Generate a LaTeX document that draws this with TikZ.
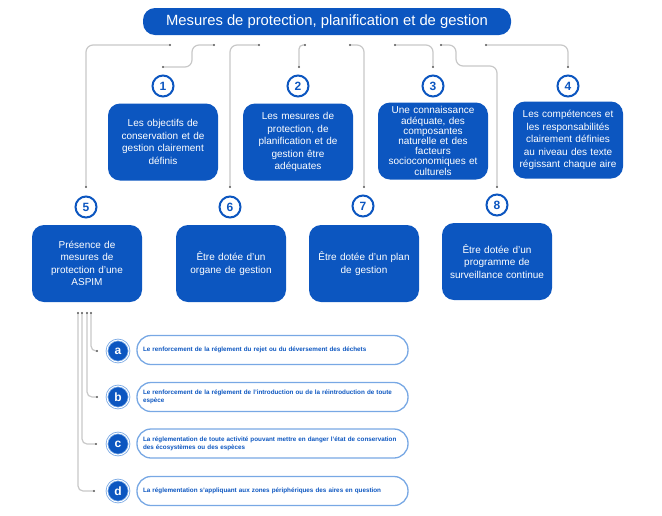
\documentclass[tikz,border=0pt]{standalone}
\usepackage{fontspec}
\setmainfont{Liberation Sans}
\definecolor{bleu}{RGB}{12,86,192}
\definecolor{bleuclair}{RGB}{120,168,228}
\definecolor{trait}{RGB}{200,200,200}
\tikzset{
  titre/.style={fill=bleu, rounded corners=12pt, text=white, minimum width=368pt,
    minimum height=27pt, inner sep=0pt, font=\fontsize{14.8}{16}\selectfont},
  boite/.style={fill=bleu, rounded corners=12pt, text=white, minimum width=110pt,
    minimum height=77pt, text width=104pt, align=center, inner sep=0pt,
    font=\fontsize{10}{12.5}\selectfont},
  numero/.style={circle, draw=bleu, line width=2pt, fill=white, text=bleu,
    minimum size=21pt, inner sep=0pt, font=\bfseries\fontsize{12}{12}\selectfont},
  lettre/.style={circle, fill=bleu, draw=bleuclair, double=white, double distance=1pt,
    line width=0.8pt, text=white, minimum size=22pt, inner sep=0pt,
    font=\bfseries\fontsize{12}{12}\selectfont},
  pilule/.style={draw=bleuclair, line width=1.3pt, rounded corners=14pt, minimum width=271pt,
    minimum height=29pt, text width=259pt, align=left, inner sep=0pt, text=bleu,
    font=\bfseries\fontsize{6.3}{8}\selectfont},
  lien/.style={draw=trait, line width=1.2pt, rounded corners=7pt},
  point/.style={fill=gray!70!black}
}
\begin{document}
\begin{tikzpicture}[x=1pt,y=-1pt]
    \useasboundingbox (0,0) rectangle (662,515);
    \node[titre] (titre) at (327,21.5) {Mesures de protection, planification et de gestion};
    % premiere rangee
    \node[numero] (n1) at (163,86) {1};
    \node[numero] (n2) at (298,86) {2};
    \node[numero] (n3) at (433,86) {3};
    \node[numero] (n4) at (568,86) {4};
    \node[boite] (b1) at (163,142) {Les objectifs de\\conservation et de\\gestion clairement\\définis};
    \node[boite] (b2) at (298,142) {Les mesures de\\protection, de\\planification et de\\gestion être\\adéquates};
    \node[boite, font=\fontsize{10}{10.2}\selectfont] (b3) at (433,141)
        {Une connaissance\\adéquate, des\\composantes\\naturelle et des\\facteurs\\socioconomiques et\\culturels};
    \node[boite] (b4) at (568,140) {Les compétences et\\les responsabilités\\clairement définies\\au niveau des texte\\régissant chaque aire};
    % deuxieme rangee
    \node[numero] (n5) at (86,207) {5};
    \node[numero] (n6) at (230,207) {6};
    \node[numero] (n7) at (363,206) {7};
    \node[numero] (n8) at (497,205) {8};
    \node[boite] (b5) at (87,263.5) {Présence de\\mesures de\\protection d’une\\ASPIM};
    \node[boite] (b6) at (231,263.5) {Être dotée d’un\\organe de gestion};
    \node[boite] (b7) at (364,263.5) {Être dotée d’un plan\\de gestion};
    \node[boite] (b8) at (497,261.5) {Être dotée d’un\\programme de\\surveillance continue};
    % liens du haut
    \coordinate (s1) at (170,45);  \coordinate (e5) at (86,187);
    \coordinate (s2) at (214,45);  \coordinate (e1) at (163,67);
    \coordinate (s3) at (259,45);  \coordinate (e6) at (230,187);
    \coordinate (s4) at (305,45);  \coordinate (e2) at (299,67);
    \coordinate (s5) at (350,45);  \coordinate (e7) at (364,187);
    \coordinate (s6) at (395,45);  \coordinate (e3) at (433,67);
    \coordinate (s7) at (441,45);  \coordinate (e8) at (497,187);
    \coordinate (s8) at (486,45);  \coordinate (e4) at (568,67);
    \draw[lien] (s1) -| (e5);
    \draw[lien] (s2) -- (192,45) -- (192,67) -- (e1);
    \draw[lien] (s3) -| (e6);
    \draw[lien, rounded corners=4pt] (s4) -| (e2);
    \draw[lien] (s5) -| (e7);
    \draw[lien] (s6) -| (e3);
    \draw[lien] (s7) -- (456,45) -- (456,66) -- (497,66) -- (e8);
    \draw[lien] (s8) -| (e4);
    % sous-mesures
    \node[lettre] (la) at (118,351) {a};
    \node[lettre] (lb) at (118,397) {b};
    \node[lettre] (lc) at (118,444) {c};
    \node[lettre] (ld) at (118,491) {d};
    \node[pilule] (pa) at (272.5,350) {Le renforcement de la réglement du rejet ou du déversement des déchets};
    \node[pilule] (pb) at (272.5,397) {Le renforcement de la réglement de l’introduction ou de la réintroduction de toute\\espèce};
    \node[pilule] (pc) at (272.5,443.5) {La réglementation de toute activité pouvant mettre en danger l’état de conservation\\des écosystèmes ou des espèces};
    \node[pilule] (pd) at (272.5,491) {La réglementation s’appliquant aux zones périphériques des aires en question};
    \coordinate (ha) at (91,313);  \coordinate (fa) at (97,351);
    \coordinate (hb) at (87,313);  \coordinate (fb) at (97,397);
    \coordinate (hc) at (82,313);  \coordinate (fc) at (96,444);
    \coordinate (hd) at (78,313);  \coordinate (fd) at (94,491);
    \foreach \i in {a,b,c,d}{
        \draw[lien, rounded corners=5pt] (h\i) |- (f\i);
        };
    \foreach \p in {s1,s2,s3,s4,s5,s6,s7,s8,e1,e2,e3,e4,e5,e6,e7,e8,ha,hb,hc,hd,fa,fb,fc,fd}{
        \fill[point] (\p) circle (1.2pt);
        };
\end{tikzpicture}
\end{document}
